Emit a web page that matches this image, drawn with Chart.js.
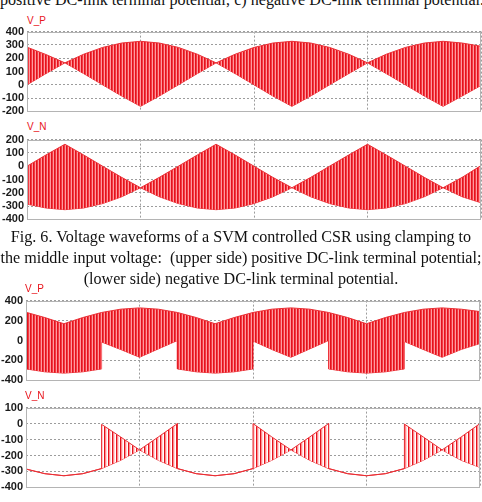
<!DOCTYPE html>
<html>
<head>
<meta charset="utf-8">
<script src="https://cdn.jsdelivr.net/npm/chart.js@4.4.1/dist/chart.umd.min.js"></script>
<style>
  html, body { margin: 0; padding: 0; background: #fff; }
  body { width: 482px; height: 502px; position: relative; overflow: hidden; }
  canvas { position: absolute; left: 0; }
  .lbl { position: absolute; font: 10px "Liberation Sans", Arial, sans-serif; color: #e8141c; line-height: 10px; }
  .cap { position: absolute; left: 0; width: 482px; text-align: center; color: #111;
         font: 16.1px "Liberation Serif", "Times New Roman", serif; line-height: 21px; white-space: pre; }
</style>
</head>
<body>
<div class="cap" style="top:-11px">positive DC-link terminal potential; c) negative DC-link terminal potential.</div>

<div class="lbl" style="left:27px;top:16px">V_P</div>
<canvas id="p1" width="482" height="99" style="top:22px"></canvas>

<div class="lbl" style="left:27px;top:122px">V_N</div>
<canvas id="p2" width="482" height="99" style="top:130px"></canvas>

<div class="cap" style="top:226px">Fig. 6. Voltage waveforms of a SVM controlled CSR using clamping to
the middle input voltage:  (upper side) positive DC-link terminal potential;
(lower side) negative DC-link terminal potential.</div>

<div class="lbl" style="left:25px;top:284px">V_P</div>
<canvas id="p3" width="482" height="99" style="top:291px"></canvas>

<div class="lbl" style="left:25px;top:391px">V_N</div>
<canvas id="p4" width="482" height="99" style="top:398px"></canvas>

<div class="cap" style="top:498px">Fig. 7. Voltage waveforms of a SVM controlled CSR using clamping to the</div>

<script>
// time in ms, grid every 5 ms
const timeA = [0, 0.83, 1.67, 2.5, 3.33, 4.17, 5, 5.83, 6.67, 7.5, 8.33, 9.17, 10,
  10.83, 11.67, 12.5, 13.33, 14.17, 15, 15.83, 16.67, 17.5, 18.33, 19.17, 20];
// second figure: the switching steps repeat a time value
const timeB = [0, 0.83, 1.67, 2.5, 3.33, 3.33, 4.17, 5, 5.83, 6.67, 6.67, 7.5, 8.33, 9.17,
  10, 10, 10.83, 11.67, 12.5, 13.33, 13.33, 14.17, 15, 15.83, 16.67, 16.67, 17.5, 18.33, 19.17, 20];

// Fig. 6 upper side, V_P (envelopes of the PWM pulses)
const vpMidHigh = [283, 228, 165, 230, 281, 314, 327, 314, 281, 230, 165, 230, 281,
  314, 327, 314, 281, 230, 165, 230, 281, 314, 327, 314, 290];
const vpMidLow = [0, 84, 165, 84, 0, -84, -162, -84, 0, 84, 165, 84, 0,
  -84, -162, -84, 0, 84, 165, 84, 0, -84, -162, -84, -5];

// Fig. 6 lower side, V_N
const vnMidHigh = [0, 84, 165, 84, 0, -84, -162, -84, 0, 84, 165, 84, 0,
  -84, -162, -84, 0, 84, 165, 84, 0, -84, -162, -84, 5];
const vnMidLow = [-285, -314, -327, -314, -281, -230, -162, -230, -281, -314, -327, -314, -281,
  -230, -162, -230, -281, -314, -327, -314, -281, -230, -162, -230, -275];

// Fig. 7 upper side, V_P
const vpHigh = [283, 230, 168, 230, 281, 281, 314, 327, 314, 281, 281, 230, 168, 230,
  281, 281, 314, 327, 314, 281, 281, 230, 168, 230, 281, 281, 314, 327, 314, 290];
const vpLow = [-285, -314, -327, -314, -285, -15, -90, -168, -84, 0, -285, -314, -327, -314,
  -285, -5, -90, -168, -84, 0, -285, -314, -327, -314, -285, -10, -90, -168, -90, -30];

// Fig. 7 lower side, V_N
const vnHigh = [-285, -314, -327, -314, -282, -5, -84, -165, -84, 0, -282, -314, -327, -314,
  -282, 0, -84, -165, -84, 0, -282, -314, -327, -314, -282, -3, -84, -165, -84, 0];
const vnLow = [-285, -314, -327, -314, -282, -282, -230, -165, -230, -282, -282, -314, -327, -314,
  -282, -282, -230, -165, -230, -282, -282, -314, -327, -314, -282, -282, -230, -165, -230, -275];

// y axis: min, max, step
const yP1 = [-200, 400, 100];
const yN1 = [-400, 200, 100];
const yP2 = [-400, 400, 200];
const yN2 = [-400, 100, 100];

const denseStripes = ['#e3121c', '#f23a42', '#ff9a9e'];
const sparseStripes = ['#e3121c', '#ff8c8f', '#ffd5d6', '#ffffff'];

function stripes(ctx, cols) {
  const c = document.createElement('canvas');
  c.width = cols.length;
  c.height = 1;
  const g = c.getContext('2d');
  cols.forEach((col, i) => { g.fillStyle = col; g.fillRect(i, 0, 1, 1); });
  return ctx.createPattern(c, 'repeat');
}

const frame = {
  id: 'frame',
  afterDatasetsDraw(chart) {
    const { ctx, chartArea: a } = chart;
    ctx.save();
    ctx.strokeStyle = '#b4b4b4';
    ctx.lineWidth = 1;
    ctx.strokeRect(Math.round(a.left) + 0.5, Math.round(a.top) + 0.5,
      Math.round(a.right - a.left) - 1, Math.round(a.bottom - a.top) - 1);
    ctx.restore();
  }
};

function makePanel(id, t, hi, lo, y, left, right, cols) {
  const ctx = document.getElementById(id).getContext('2d');
  return new Chart(ctx, {
    type: 'line',
    data: {
      datasets: [
        {
          data: t.map((x, i) => ({ x, y: hi[i] })),
          borderColor: '#ea3036',
          borderWidth: 1,
          pointRadius: 0,
          tension: 0,
          fill: '+1',
          backgroundColor: stripes(ctx, cols)
        },
        {
          data: t.map((x, i) => ({ x, y: lo[i] })),
          borderColor: '#ea3036',
          borderWidth: 1,
          pointRadius: 0,
          tension: 0,
          fill: false
        }
      ]
    },
    options: {
      responsive: false,
      animation: false,
      layout: { padding: { top: 8, bottom: 8, left: 0, right: 482 - right } },
      plugins: { legend: { display: false }, tooltip: { enabled: false } },
      scales: {
        x: {
          type: 'linear', min: 0, max: 20,
          ticks: { display: false, stepSize: 5 },
          grid: { color: '#9c9c9c', drawTicks: false },
          border: { display: false, dash: [2, 2] },
          afterFit: s => { s.height = 0; }
        },
        y: {
          min: y[0], max: y[1],
          ticks: {
            stepSize: y[2], padding: 3, color: '#1a1a1a', autoSkip: false,
            font: { family: '"Liberation Sans", Arial, sans-serif', size: 11, weight: 'bold' }
          },
          grid: { color: '#9c9c9c', drawTicks: false },
          border: { display: false, dash: [2, 2] },
          afterFit: s => { s.width = left; }
        }
      }
    },
    plugins: [frame]
  });
}

makePanel('p1', timeA, vpMidHigh, vpMidLow, yP1, 27, 481, denseStripes);
makePanel('p2', timeA, vnMidHigh, vnMidLow, yN1, 27, 481, denseStripes);
makePanel('p3', timeB, vpHigh, vpLow, yP2, 26, 480, denseStripes);
makePanel('p4', timeB, vnHigh, vnLow, yN2, 26, 480, sparseStripes);
</script>
</body>
</html>
